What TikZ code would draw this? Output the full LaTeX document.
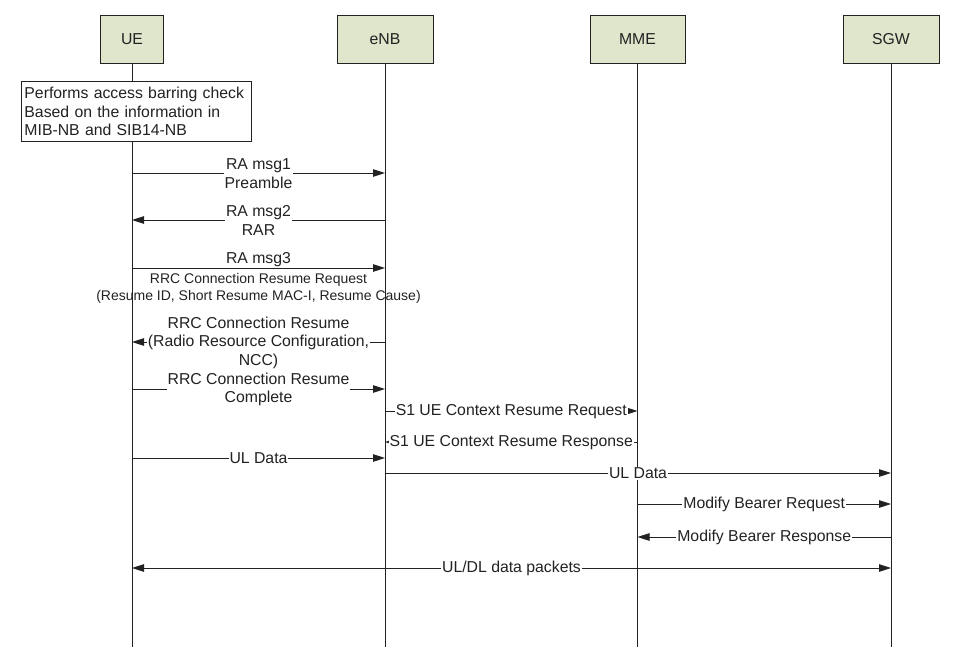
\documentclass[tikz,border=0pt]{standalone}
\usepackage{fontspec}
\setmainfont{Liberation Sans}
\usetikzlibrary{arrows.meta}
\definecolor{hdrfill}{HTML}{DFE6CB}
\definecolor{ink}{HTML}{222222}
\tikzset{
  hdr/.style={draw=ink, fill=hdrfill, line width=0.9pt, minimum height=48pt, inner sep=0pt, text=ink},
  life/.style={draw=ink, line width=0.9pt},
  notebox/.style={draw=ink, fill=white, line width=0.9pt, text width=224pt, inner sep=3pt, minimum height=60pt, align=left, text=ink},
  msg/.style={draw=ink, line width=0.9pt, -{Triangle[length=12pt,width=7.5pt]}},
  msgboth/.style={draw=ink, line width=0.9pt, {Triangle[length=12pt,width=7.5pt]}-{Triangle[length=12pt,width=7.5pt]}},
  lbl/.style={fill=white, inner sep=1pt, align=center, text=ink, yshift=-0.5pt},
  plainlbl/.style={inner sep=1pt, align=center, text=ink},
  smalltxt/.style={font=\fontsize{14}{17}\selectfont},
}
\begin{document}
\begin{tikzpicture}[x=1pt, y=-1pt, font=\fontsize{15.8}{18.5}\selectfont]
\useasboundingbox (0,0) rectangle (964,670);

% headers
\node[hdr, minimum width=63pt] (ue)  at (132,39)   {UE};
\node[hdr, minimum width=96pt] (enb) at (385,39)   {eNB};
\node[hdr, minimum width=95pt] (mme) at (637.5,39) {MME};
\node[hdr, minimum width=96pt] (sgw) at (891,39)   {SGW};

% lifeline ends
\coordinate (ueEnd)  at (ue  |- 0,647);
\coordinate (enbEnd) at (enb |- 0,647);
\coordinate (mmeEnd) at (mme |- 0,647);
\coordinate (sgwEnd) at (sgw |- 0,647);
\draw[life] (ue.south)  -- (ueEnd);
\draw[life] (enb.south) -- (enbEnd);
\draw[life] (mme.south) -- (mmeEnd);
\draw[life] (sgw.south) -- (sgwEnd);

% note
\node[notebox, anchor=north west] (note) at (21,81)
  {Performs access barring check\\Based on the information in\\MIB-NB and SIB14-NB};

% message end points
\coordinate (m1u) at (ue  |- 0,173); \coordinate (m1e) at (enb |- 0,173);
\coordinate (m2u) at (ue  |- 0,220); \coordinate (m2e) at (enb |- 0,220);
\coordinate (m3u) at (ue  |- 0,268); \coordinate (m3e) at (enb |- 0,268);
\coordinate (m4u) at (ue  |- 0,342); \coordinate (m4e) at (enb |- 0,342);
\coordinate (m5u) at (ue  |- 0,389); \coordinate (m5e) at (enb |- 0,389);
\coordinate (m6e) at (enb |- 0,411); \coordinate (m6m) at (mme |- 0,411);
\coordinate (m7e) at (enb |- 0,442); \coordinate (m7m) at (mme |- 0,442);
\coordinate (m8u) at (ue  |- 0,458); \coordinate (m8e) at (enb |- 0,458);
\coordinate (m9e) at (enb |- 0,473); \coordinate (m9s) at (sgw |- 0,473);
\coordinate (m10m) at (mme |- 0,504); \coordinate (m10s) at (sgw |- 0,504);
\coordinate (m11m) at (mme |- 0,537); \coordinate (m11s) at (sgw |- 0,537);
\coordinate (m12u) at (ue  |- 0,568); \coordinate (m12s) at (sgw |- 0,568);

% messages
\draw[msg] (m1u) -- node[lbl] {RA msg1\\Preamble} (m1e);
\draw[msg] (m2e) -- node[lbl] {RA msg2\\RAR} (m2u);
\draw[msg] (m3u) -- node[plainlbl, above] {RA msg3}
  node[plainlbl, below, smalltxt, yshift=-4pt] {RRC Connection Resume Request\\(Resume ID, Short Resume MAC-I, Resume Cause)} (m3e);
\draw[msg] (m4e) -- node[lbl] {RRC Connection Resume\\(Radio Resource Configuration,\\NCC)} (m4u);
\draw[msg] (m5u) -- node[lbl] {RRC Connection Resume\\Complete} (m5e);
\draw[msg] (m6e) -- node[lbl] {S1 UE Context Resume Request} (m6m);
\draw[msg] (m7m) -- node[lbl] {S1 UE Context Resume Response} (m7e);
\draw[msg] (m8u) -- node[lbl] {UL Data} (m8e);
\draw[msg] (m9e) -- node[lbl] {UL Data} (m9s);
\draw[msg] (m10m) -- node[lbl] {Modify Bearer Request} (m10s);
\draw[msg] (m11s) -- node[lbl] {Modify Bearer Response} (m11m);
\draw[msgboth] (m12u) -- node[lbl] {UL/DL data packets} (m12s);
\end{tikzpicture}
\end{document}
